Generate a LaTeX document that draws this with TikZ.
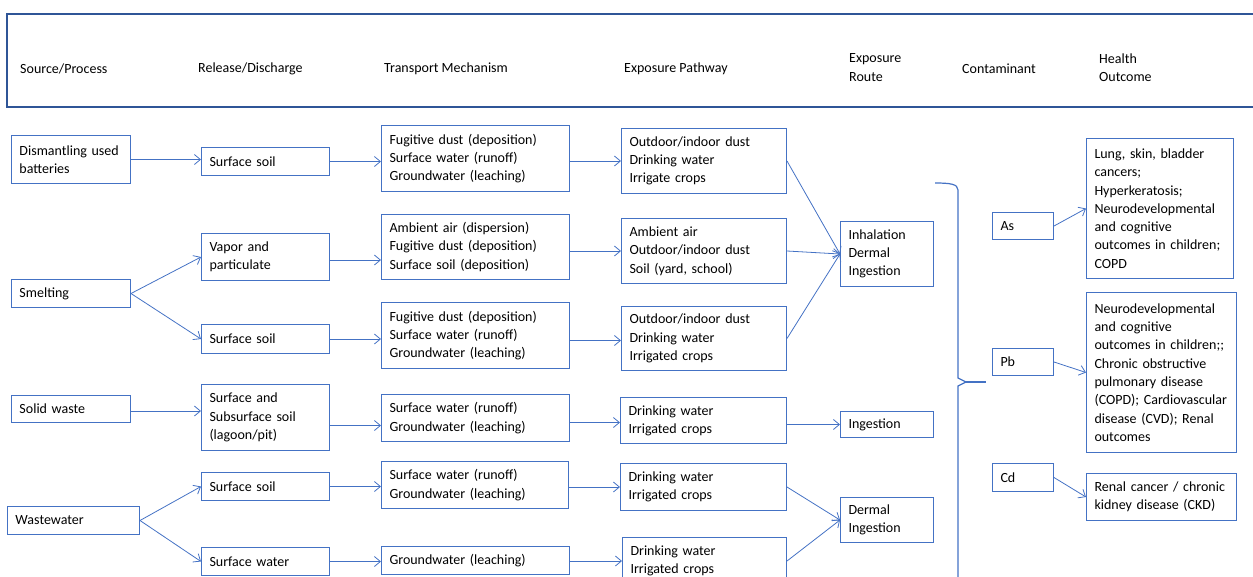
\documentclass[tikz,border=0pt]{standalone}
\usepackage{fontspec}
\setmainfont{Carlito}
\usetikzlibrary{arrows.meta}
\definecolor{bblue}{HTML}{4472C4}
\definecolor{hblue}{HTML}{2F5597}
\begin{document}
\begin{tikzpicture}[x=1pt,y=-1pt,
  bx/.style={draw=bblue, line width=1pt, anchor=north west, align=left, inner xsep=8pt, inner ysep=0pt, font=\fontsize{14pt}{18.3pt}\selectfont},
  hd/.style={anchor=west, align=left, inner sep=0pt, font=\fontsize{14pt}{18.3pt}\selectfont},
  arr/.style={draw=bblue, line width=0.8pt, -{Straight Barb[length=6pt,width=10pt]}},
  brace/.style={draw=bblue, line width=1.2pt},
]
\useasboundingbox (0,0) rectangle (1253,576);
\clip (0,0) rectangle (1253,576);

% header band
\node[draw=hblue, line width=2pt, anchor=north west, minimum width=1300pt, minimum height=93pt, inner sep=0pt] (hdr) at (6,13) {};
\node[hd] (h1) at (20,69) {Source/Process};
\node[hd] (h2) at (198,69) {Release/Discharge};
\node[hd] (h3) at (384,69) {Transport Mechanism};
\node[hd] (h4) at (624,69) {Exposure Pathway};
\node[hd] (h5) at (849,67.5) {Exposure\\Route};
\node[hd] (h6) at (962,69) {Contaminant};
\node[hd] (h7) at (1099,68) {Health\\Outcome};

% sources
\node[bx, minimum width=119pt, minimum height=48pt, text width=103pt] (dis) at (11,135) {Dismantling used\\batteries};
\node[bx, minimum width=119pt, minimum height=28pt, text width=103pt] (smel) at (11,279) {Smelting};
\node[bx, minimum width=119pt, minimum height=27pt, text width=103pt] (solid) at (11,395) {Solid waste};
\node[bx, minimum width=132pt, minimum height=28pt, text width=116pt] (waste) at (7,506) {Wastewater};

% release
\node[bx, minimum width=128pt, minimum height=28pt, text width=112pt] (rs1) at (201,147) {Surface soil};
\node[bx, minimum width=128pt, minimum height=47pt, text width=112pt] (rvap) at (201,233) {Vapor and\\particulate};
\node[bx, minimum width=128pt, minimum height=29pt, text width=112pt] (rs2) at (201,324) {Surface soil};
\node[bx, minimum width=128pt, minimum height=66pt, text width=112pt] (rsub) at (201,384) {Surface and\\Subsurface soil\\(lagoon/pit)};
\node[bx, minimum width=128pt, minimum height=28pt, text width=112pt] (rs3) at (201,472) {Surface soil};
\node[bx, minimum width=128pt, minimum height=28pt, text width=112pt] (rsw) at (201,547) {Surface water};

% transport
\node[bx, minimum width=188pt, minimum height=66pt, text width=172pt] (t1) at (381,125) {Fugitive dust (deposition)\\Surface water (runoff)\\Groundwater (leaching)};
\node[bx, minimum width=188pt, minimum height=65pt, text width=172pt] (t2) at (381,214) {Ambient air (dispersion)\\Fugitive dust (deposition)\\Surface soil (deposition)};
\node[bx, minimum width=188pt, minimum height=66pt, text width=172pt] (t3) at (381,302) {Fugitive dust (deposition)\\Surface water (runoff)\\Groundwater (leaching)};
\node[bx, minimum width=188pt, minimum height=47pt, text width=172pt] (t4) at (381,394) {Surface water (runoff)\\Groundwater (leaching)};
\node[bx, minimum width=187pt, minimum height=47pt, text width=171pt] (t5) at (381,461) {Surface water (runoff)\\Groundwater (leaching)};
\node[bx, minimum width=188pt, minimum height=28pt, text width=172pt] (t6) at (381,546) {Groundwater (leaching)};

% exposure pathway
\node[bx, minimum width=165pt, minimum height=65pt, text width=149pt] (p1) at (621,128) {Outdoor/indoor dust\\Drinking water\\Irrigate crops};
\node[bx, minimum width=165pt, minimum height=65pt, text width=149pt] (p2) at (621,218) {Ambient air\\Outdoor/indoor dust\\Soil (yard, school)};
\node[bx, minimum width=165pt, minimum height=64pt, text width=149pt] (p3) at (621,306) {Outdoor/indoor dust\\Drinking water\\Irrigated crops};
\node[bx, minimum width=166pt, minimum height=46pt, text width=150pt] (p4) at (620,397) {Drinking water\\Irrigated crops};
\node[bx, minimum width=166pt, minimum height=47pt, text width=150pt] (p5) at (620,463) {Drinking water\\Irrigated crops};
\node[bx, minimum width=164pt, minimum height=47pt, text width=148pt] (p6) at (622,537) {Drinking water\\Irrigated crops};

% exposure route
\node[bx, minimum width=93pt, minimum height=65pt, text width=77pt] (inh) at (840,221) {Inhalation\\Dermal\\Ingestion};
\node[bx, minimum width=93pt, minimum height=26pt, text width=77pt] (ing) at (840,411) {Ingestion};
\node[bx, minimum width=93pt, minimum height=45pt, text width=77pt] (derm) at (840,497) {Dermal\\Ingestion};

% contaminants
\node[bx, minimum width=61pt, minimum height=27pt, text width=45pt] (as) at (992,212) {As};
\node[bx, minimum width=61pt, minimum height=27pt, text width=45pt] (pb) at (992,348) {Pb};
\node[bx, minimum width=61pt, minimum height=28pt, text width=45pt] (cd) at (992,463) {Cd};

% health outcomes
\node[bx, minimum width=147pt, minimum height=140pt, text width=131pt] (o1) at (1086,138) {Lung, skin, bladder\\cancers;\\Hyperkeratosis;\\Neurodevelopmental\\and cognitive\\outcomes in children;\\COPD};
\node[bx, minimum width=150pt, minimum height=160pt, text width=134pt] (o2) at (1086,292) {Neurodevelopmental\\and cognitive\\outcomes in children;;\\Chronic obstructive\\pulmonary disease\\(COPD); Cardiovascular\\disease (CVD); Renal\\outcomes};
\node[bx, minimum width=150pt, minimum height=47pt, text width=134pt] (o3) at (1086,473) {Renal cancer / chronic\\kidney disease (CKD)};

% connectors
\draw[arr] (dis.east) -- (dis.east -| rs1.west);
\draw[arr] (rs1.east) -- (rs1.east -| t1.west);
\draw[arr] (p1.west -| t1.east) -- (p1.west);
\draw[arr] (p1.east) -- (inh.west);

\draw[arr] (smel.east) -- (rvap.west);
\draw[arr] (smel.east) -- (rs2.west);
\draw[arr] ([yshift=-3pt]rvap.east) -- ([yshift=-3pt]rvap.east -| t2.west);
\draw[arr] (p2.west -| t2.east) -- (p2.west);
\draw[arr] (p2.east) -- (inh.west);
\draw[arr] (rs2.east) -- (rs2.east -| t3.west);
\draw[arr] ([yshift=-2pt]p3.west -| t3.east) -- ([yshift=-2pt]p3.west);
\draw[arr] (p3.east) -- (inh.west);

\draw[arr] ([yshift=-2pt]solid.east) -- ([yshift=-2pt]solid.east -| rsub.west);
\draw[arr] ([yshift=-8pt]rsub.east) -- ([yshift=-8pt]rsub.east -| t4.west);
\draw[arr] ([yshift=-2pt]p4.west -| t4.east) -- ([yshift=-2pt]p4.west);
\draw[arr] (ing.west -| p4.east) -- (ing.west);

\draw[arr] (waste.east) -- (rs3.west);
\draw[arr] (waste.east) -- (rsw.west);
\draw[arr] (rs3.east) -- (rs3.east -| t5.west);
\draw[arr] (p5.west -| t5.east) -- (p5.west);
\draw[arr] (rsw.east) -- (rsw.east -| t6.west);
\draw[arr] (p6.west -| t6.east) -- (p6.west);
\draw[arr] (p5.east) -- (derm.west);
\draw[arr] (p6.east) -- (derm.west);

\draw[arr] (as.east) -- (o1.west);
\draw[arr] (pb.east) -- (o2.west);
\draw[arr] (cd.east) -- (o3.west);

% brace (its lower end runs past the bottom edge)
\coordinate (btop) at (935,183);
\coordinate (btip) at (966,382);
\coordinate (bstub) at (986,382);
\coordinate (bbot) at (935,600);
\draw[brace] (btop) .. controls (950,183) and (958,184) .. (958,190) -- (958,378) -- (btip) -- (958,386) -- (958,592) .. controls (958,598) and (950,600) .. (bbot);
\draw[draw=bblue, line width=2pt] (btip) -- (bstub);
\end{tikzpicture}
\end{document}
